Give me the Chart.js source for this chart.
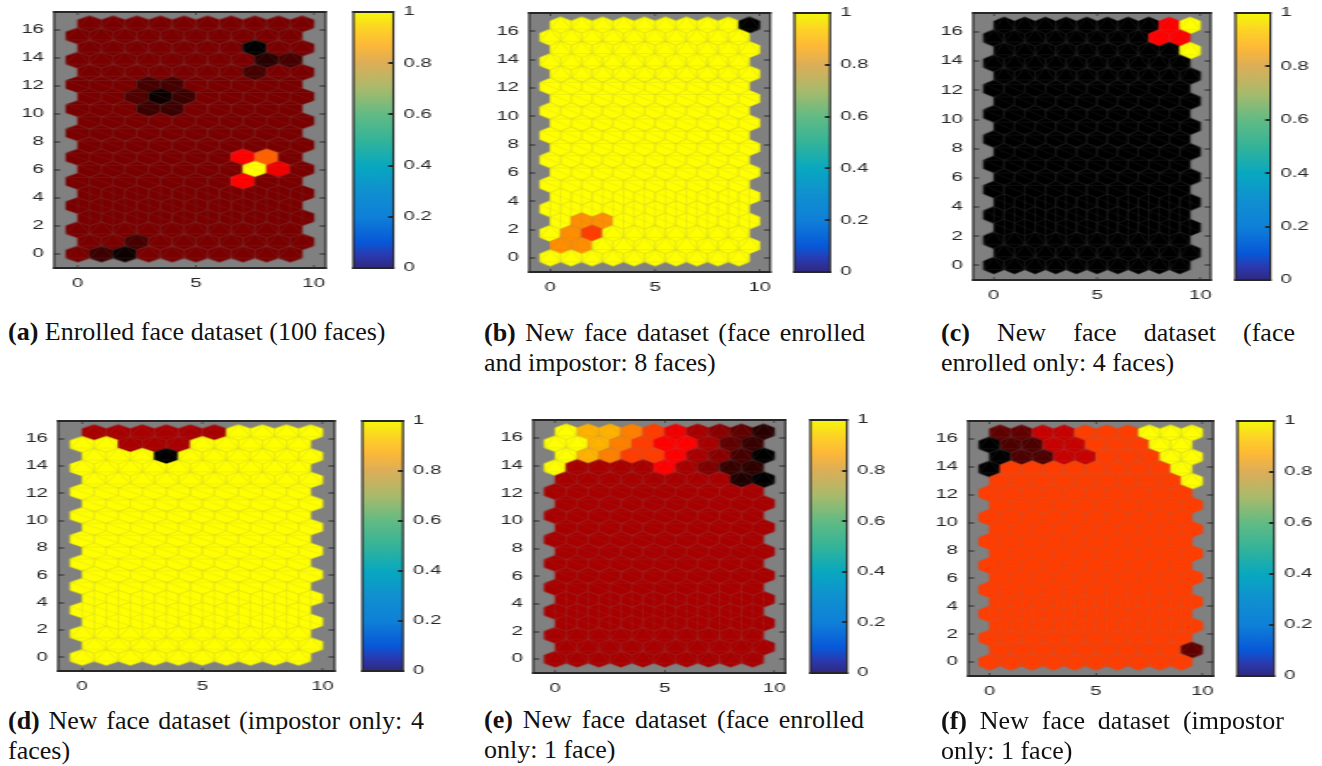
<!DOCTYPE html>
<html>
<head>
<meta charset="utf-8">
<title>Hit maps</title>
<script src="https://cdn.jsdelivr.net/npm/chart.js@4/dist/chart.umd.min.js"></script>
<style>
  html, body { margin: 0; background: #fff; }
  #page { position: relative; width: 1322px; height: 766px; overflow: hidden; }
  canvas { position: absolute; }
  .cap {
    position: absolute; margin: 0; text-align: justify;
    font-family: "Liberation Serif", serif; font-size: 26px; line-height: 29.5px; color: #111;
  }
</style>
</head>
<body>
<div id="page"></div>
<script>
// Grid rows, top row first
const rowY = [16.45, 15.59, 14.72, 13.86, 12.99, 12.12, 11.26, 10.39, 9.53, 8.66, 7.79, 6.93, 6.06, 5.20, 4.33, 3.46, 2.60, 1.73, 0.87, 0];
const oddRowX = [0.5, 1.5, 2.5, 3.5, 4.5, 5.5, 6.5, 7.5, 8.5, 9.5];
const evenRowX = [0, 1, 2, 3, 4, 5, 6, 7, 8, 9];

const xTicks = [0, 5, 10];
const yTicks = [0, 2, 4, 6, 8, 10, 12, 14, 16];
const barTicks = [0, 0.2, 0.4, 0.6, 0.8, 1];

// Hit values, same row order as rowY
const hitsA = [
  [.24,.24,.24,.24,.24,.24,.24,.24,.24,.24],
  [.24,.24,.24,.24,.24,.24,.24,.24,.24,.24],
  [.24,.24,.24,.24,.24,.24,.24,0,.24,.24],
  [.24,.24,.24,.24,.24,.24,.24,.24,.08,.14],
  [.24,.24,.24,.24,.24,.24,.24,.14,.24,.24],
  [.24,.24,.24,.14,.14,.24,.24,.24,.24,.24],
  [.24,.24,.16,.03,.12,.24,.24,.24,.24,.24],
  [.24,.24,.24,.12,.12,.24,.24,.24,.24,.24],
  [.24,.24,.24,.24,.24,.24,.24,.24,.24,.24],
  [.24,.24,.24,.24,.24,.24,.24,.24,.24,.24],
  [.24,.24,.24,.24,.24,.24,.24,.24,.24,.24],
  [.24,.24,.24,.24,.24,.24,.24,.5,.69,.24],
  [.24,.24,.24,.24,.24,.24,.24,1,.47,.24],
  [.24,.24,.24,.24,.24,.24,.24,.5,.24,.24],
  [.24,.24,.24,.24,.24,.24,.24,.24,.24,.24],
  [.24,.24,.24,.24,.24,.24,.24,.24,.24,.24],
  [.24,.24,.24,.24,.24,.24,.24,.24,.24,.24],
  [.24,.24,.24,.24,.24,.24,.24,.24,.24,.24],
  [.24,.24,.14,.24,.24,.24,.24,.24,.24,.24],
  [.24,.12,.03,.24,.24,.24,.24,.24,.24,.24]
];
const hitsB = [
  [1,1,1,1,1,1,1,1,1,0],
  [1,1,1,1,1,1,1,1,1,1],
  [1,1,1,1,1,1,1,1,1,1],
  [1,1,1,1,1,1,1,1,1,1],
  [1,1,1,1,1,1,1,1,1,1],
  [1,1,1,1,1,1,1,1,1,1],
  [1,1,1,1,1,1,1,1,1,1],
  [1,1,1,1,1,1,1,1,1,1],
  [1,1,1,1,1,1,1,1,1,1],
  [1,1,1,1,1,1,1,1,1,1],
  [1,1,1,1,1,1,1,1,1,1],
  [1,1,1,1,1,1,1,1,1,1],
  [1,1,1,1,1,1,1,1,1,1],
  [1,1,1,1,1,1,1,1,1,1],
  [1,1,1,1,1,1,1,1,1,1],
  [1,1,1,1,1,1,1,1,1,1],
  [1,.78,.78,1,1,1,1,1,1,1],
  [1,.78,.62,1,1,1,1,1,1,1],
  [.78,.78,1,1,1,1,1,1,1,1],
  [1,1,1,1,1,1,1,1,1,1]
];
const hitsC = [
  [0,0,0,0,0,0,0,0,.5,1],
  [0,0,0,0,0,0,0,0,.5,.5],
  [0,0,0,0,0,0,0,0,0,1],
  [0,0,0,0,0,0,0,0,0,0],
  [0,0,0,0,0,0,0,0,0,0],
  [0,0,0,0,0,0,0,0,0,0],
  [0,0,0,0,0,0,0,0,0,0],
  [0,0,0,0,0,0,0,0,0,0],
  [0,0,0,0,0,0,0,0,0,0],
  [0,0,0,0,0,0,0,0,0,0],
  [0,0,0,0,0,0,0,0,0,0],
  [0,0,0,0,0,0,0,0,0,0],
  [0,0,0,0,0,0,0,0,0,0],
  [0,0,0,0,0,0,0,0,0,0],
  [0,0,0,0,0,0,0,0,0,0],
  [0,0,0,0,0,0,0,0,0,0],
  [0,0,0,0,0,0,0,0,0,0],
  [0,0,0,0,0,0,0,0,0,0],
  [0,0,0,0,0,0,0,0,0,0],
  [0,0,0,0,0,0,0,0,0,0]
];
const hitsD = [
  [.33,.33,.33,.33,.33,.33,1,1,1,1],
  [1,1,.33,.33,.33,1,1,1,1,1],
  [1,1,1,0,1,1,1,1,1,1],
  [1,1,1,1,1,1,1,1,1,1],
  [1,1,1,1,1,1,1,1,1,1],
  [1,1,1,1,1,1,1,1,1,1],
  [1,1,1,1,1,1,1,1,1,1],
  [1,1,1,1,1,1,1,1,1,1],
  [1,1,1,1,1,1,1,1,1,1],
  [1,1,1,1,1,1,1,1,1,1],
  [1,1,1,1,1,1,1,1,1,1],
  [1,1,1,1,1,1,1,1,1,1],
  [1,1,1,1,1,1,1,1,1,1],
  [1,1,1,1,1,1,1,1,1,1],
  [1,1,1,1,1,1,1,1,1,1],
  [1,1,1,1,1,1,1,1,1,1],
  [1,1,1,1,1,1,1,1,1,1],
  [1,1,1,1,1,1,1,1,1,1],
  [1,1,1,1,1,1,1,1,1,1],
  [1,1,1,1,1,1,1,1,1,1]
];
const hitsE = [
  [1,.85,.85,.75,.62,.47,.33,.27,.19,.08],
  [1,1,.85,.75,.62,.5,.5,.33,.19,.11],
  [1,.85,.75,.62,.62,.5,.33,.27,.14,0],
  [1,.33,.33,.33,.33,.5,.33,.25,.11,.09],
  [.33,.33,.33,.33,.33,.33,.33,.33,.06,0],
  [.33,.33,.33,.33,.33,.33,.33,.33,.33,.33],
  [.33,.33,.33,.33,.33,.33,.33,.33,.33,.33],
  [.33,.33,.33,.33,.33,.33,.33,.33,.33,.33],
  [.33,.33,.33,.33,.33,.33,.33,.33,.33,.33],
  [.33,.33,.33,.33,.33,.33,.33,.33,.33,.33],
  [.33,.33,.33,.33,.33,.33,.33,.33,.33,.33],
  [.33,.33,.33,.33,.33,.33,.33,.33,.33,.33],
  [.33,.33,.33,.33,.33,.33,.33,.33,.33,.33],
  [.33,.33,.33,.33,.33,.33,.33,.33,.33,.33],
  [.33,.33,.33,.33,.33,.33,.33,.33,.33,.33],
  [.33,.33,.33,.33,.33,.33,.33,.33,.33,.33],
  [.33,.33,.33,.33,.33,.33,.33,.33,.33,.33],
  [.33,.33,.33,.33,.33,.33,.33,.33,.33,.33],
  [.33,.33,.33,.33,.33,.33,.33,.33,.33,.33],
  [.33,.33,.33,.33,.33,.33,.33,.33,.33,.33]
];
const hitsF = [
  [.19,.19,.39,.39,.62,.62,.62,1,1,1],
  [0,.15,.15,.39,.39,.62,.62,.62,1,1],
  [0,.15,.15,.39,.39,.62,.62,.62,1,1],
  [0,.62,.62,.62,.62,.62,.62,.62,.62,1],
  [.62,.62,.62,.62,.62,.62,.62,.62,.62,1],
  [.62,.62,.62,.62,.62,.62,.62,.62,.62,.62],
  [.62,.62,.62,.62,.62,.62,.62,.62,.62,.62],
  [.62,.62,.62,.62,.62,.62,.62,.62,.62,.62],
  [.62,.62,.62,.62,.62,.62,.62,.62,.62,.62],
  [.62,.62,.62,.62,.62,.62,.62,.62,.62,.62],
  [.62,.62,.62,.62,.62,.62,.62,.62,.62,.62],
  [.62,.62,.62,.62,.62,.62,.62,.62,.62,.62],
  [.62,.62,.62,.62,.62,.62,.62,.62,.62,.62],
  [.62,.62,.62,.62,.62,.62,.62,.62,.62,.62],
  [.62,.62,.62,.62,.62,.62,.62,.62,.62,.62],
  [.62,.62,.62,.62,.62,.62,.62,.62,.62,.62],
  [.62,.62,.62,.62,.62,.62,.62,.62,.62,.62],
  [.62,.62,.62,.62,.62,.62,.62,.62,.62,.62],
  [.62,.62,.62,.62,.62,.62,.62,.62,.62,.19],
  [.62,.62,.62,.62,.62,.62,.62,.62,.62,.62]
];

const captionLabels = ['(a)', '(b)', '(c)', '(d)', '(e)', '(f)'];
const captionTexts = [
  'Enrolled face dataset (100 faces)',
  'New face dataset (face enrolled and impostor: 8 faces)',
  'New face dataset (face enrolled only: 4 faces)',
  'New face dataset (impostor only: 4 faces)',
  'New face dataset (face enrolled only: 1 face)',
  'New face dataset (impostor only: 1 face)'
];

// Colorbar stops (position, colour)
const barStops = [0, 0.05, 0.1, 0.2, 0.3, 0.4, 0.5, 0.6, 0.7, 0.8, 0.87, 0.93, 1];
const barColors = ['#30287e', '#2a3ab0', '#0858d8', '#0f80d8', '#1090d0', '#08a8c0', '#34b498', '#62bb84', '#a8ba6c', '#dcae58', '#fdb838', '#fdd028', '#f5f80a'];

// Frame of each map and of its colorbar [left, top, right, bottom], in page pixels
const layouts = [
  { hits: hitsA, map: [54, 12, 326, 268], bar: [353, 12, 393, 268], cap: [8, 317, 400] },
  { hits: hitsB, map: [529, 13, 770, 272], bar: [794, 13, 830, 272], cap: [484, 318, 381] },
  { hits: hitsC, map: [973, 13, 1211, 280], bar: [1235, 13, 1270, 280], cap: [941, 318, 354] },
  { hits: hitsD, map: [58, 421, 335, 671], bar: [362, 421, 403, 671], cap: [8, 706, 416] },
  { hits: hitsE, map: [533, 420, 785, 673], bar: [810, 420, 847, 673], cap: [484, 705, 380] },
  { hits: hitsF, map: [968, 421, 1213, 676], bar: [1237, 421, 1274, 676], cap: [941, 706, 343] }
];

// The source figure is stretched sideways, so the canvases are too
const stretch = 1.7;
const tickFont = { family: '"Liberation Sans", sans-serif', size: 12 };
const inkColor = '#262626';
const page = document.getElementById('page');

// black -> red -> yellow
function heatColor(v) {
  const r = Math.min(1, v / 0.5);
  const g = Math.max(0, (v - 0.5) / 0.5);
  return `rgb(${Math.round(r * 255)},${Math.round(g * 255)},0)`;
}

// Which faint mesh lines show inside a hexagon, depends on the row
function meshFor(rowIndex) {
  if (rowIndex < 5) return 'tent';
  if (rowIndex < 14) return 'flat';
  if (rowIndex < 17) return 'vert';
  return 'tent';
}

const spriteCache = {};
function hexSprite(color, mesh, w, h) {
  const key = [color, mesh, w.toFixed(2), h.toFixed(2)].join('|');
  if (spriteCache[key]) return spriteCache[key];
  const c = document.createElement('canvas');
  c.width = Math.ceil(w) + 4;
  c.height = Math.ceil(h) + 4;
  const g = c.getContext('2d');
  g.translate(c.width / 2, c.height / 2);
  const px = w / 2, py = h / 2, pq = h / 4;
  const line = (x1, y1, x2, y2) => { g.moveTo(x1, y1); g.lineTo(x2, y2); };
  g.beginPath();
  g.moveTo(0, -py);
  g.lineTo(px, -pq);
  g.lineTo(px, pq);
  g.lineTo(0, py);
  g.lineTo(-px, pq);
  g.lineTo(-px, -pq);
  g.closePath();
  g.fillStyle = color;
  g.strokeStyle = color;
  g.lineWidth = 0.6;
  g.fill();
  g.stroke();
  g.strokeStyle = 'rgba(128,128,128,0.14)';
  g.stroke();
  g.beginPath();
  if (mesh === 'flat') {
    line(-px, -pq, px, -pq);
    line(-px, -pq, px, pq);
  } else if (mesh === 'tent') {
    line(0, -py, -px, pq);
    line(0, -py, px, pq);
    line(-px, pq, px, pq);
  } else {
    line(0, -py, 0, py);
    line(-px, -pq, px, pq);
  }
  g.strokeStyle = 'rgba(128,128,128,0.22)';
  g.stroke();
  spriteCache[key] = c;
  return c;
}

function drawFrame(ctx, a) {
  const side = 2 / stretch;
  ctx.fillStyle = inkColor;
  ctx.fillRect(a.left - side / 2, a.top - 1, a.right - a.left + side, 2);
  ctx.fillRect(a.left - side / 2, a.bottom - 1, a.right - a.left + side, 2);
  ctx.fillRect(a.left - side / 2, a.top - 1, side, a.bottom - a.top + 2);
  ctx.fillRect(a.right - side / 2, a.top - 1, side, a.bottom - a.top + 2);
}

// Frame plus the short inward ticks on all four sides
const mapFrame = {
  id: 'mapFrame',
  afterDraw(chart) {
    const { ctx, chartArea: a, scales } = chart;
    const thin = 1 / stretch, len = 6 / stretch;
    ctx.save();
    ctx.fillStyle = inkColor;
    xTicks.forEach(t => {
      const x = scales.x.getPixelForValue(t);
      ctx.fillRect(x - thin / 2, a.bottom - 3, thin, 3);
      ctx.fillRect(x - thin / 2, a.top, thin, 3);
    });
    yTicks.forEach(t => {
      const y = Math.round(scales.y.getPixelForValue(t));
      ctx.fillRect(a.left, y - 0.5, len, 1);
      ctx.fillRect(a.right - len, y - 0.5, len, 1);
    });
    drawFrame(ctx, a);
    ctx.restore();
  }
};

const barFrame = {
  id: 'barFrame',
  afterDraw(chart) {
    const { ctx, chartArea: a, scales } = chart;
    const len = 5 / stretch;
    ctx.save();
    ctx.fillStyle = inkColor;
    barTicks.forEach(t => {
      const y = Math.round(scales.y.getPixelForValue(t));
      ctx.fillRect(a.right - len, y - 1, len, 2);
    });
    drawFrame(ctx, a);
    ctx.restore();
  }
};

// Canvas whose bitmap is narrower than its box on the page
function addCanvas(left, top, innerWidth, height) {
  const c = document.createElement('canvas');
  c.width = innerWidth;
  c.height = height;
  c.style.left = left + 'px';
  c.style.top = top + 'px';
  c.style.width = (innerWidth * stretch) + 'px';
  c.style.height = height + 'px';
  page.appendChild(c);
  return c;
}

function clearPadding(s) {
  s.paddingTop = 0;
  s.paddingBottom = 0;
  s.paddingLeft = 0;
  s.paddingRight = 0;
}

function drawMap(hits, box) {
  const [l, t, r, b] = box;
  const padLeft = 26, padTop = 12, padBottom = 32;
  const areaWidth = (r - l) / stretch;
  const innerWidth = Math.ceil(padLeft + areaWidth + 12);
  const canvas = addCanvas(l - padLeft * stretch, t - padTop, innerWidth, b - t + padTop + padBottom);
  const points = [];
  hits.forEach((row, i) => {
    const xs = i % 2 === 0 ? oddRowX : evenRowX;
    row.forEach((v, j) => {
      points.push({ x: xs[j], y: rowY[i], v: v, row: i });
    });
  });
  new Chart(canvas, {
    type: 'scatter',
    data: {
      datasets: [{
        data: points,
        showLine: false,
        pointRadius: 10,
        pointBorderWidth: 0,
        pointStyle: ctx => {
          const s = ctx.chart.scales;
          const w = Math.abs(s.x.getPixelForValue(1) - s.x.getPixelForValue(0));
          const h = Math.abs(s.y.getPixelForValue(0) - s.y.getPixelForValue(1.1547));
          return hexSprite(heatColor(ctx.raw.v), meshFor(ctx.raw.row), w, h);
        }
      }]
    },
    options: {
      responsive: false,
      animation: false,
      events: [],
      layout: { padding: { top: padTop, right: innerWidth - padLeft - areaWidth, left: 0, bottom: 0 } },
      plugins: { legend: { display: false }, tooltip: { enabled: false } },
      scales: {
        x: {
          type: 'linear', min: -1, max: 10.5,
          grid: { display: false, drawTicks: false }, border: { display: false },
          afterBuildTicks: s => { s.ticks = xTicks.map(value => ({ value })); },
          afterFit: s => { s.height = padBottom; clearPadding(s); },
          ticks: { padding: 8, color: inkColor, font: tickFont, maxRotation: 0, callback: v => String(v) }
        },
        y: {
          type: 'linear', min: -1, max: 17.3,
          grid: { display: false, drawTicks: false }, border: { display: false },
          afterBuildTicks: s => { s.ticks = yTicks.map(value => ({ value })); },
          afterFit: s => { s.width = padLeft; clearPadding(s); },
          ticks: { padding: 6, color: inkColor, font: tickFont, callback: v => String(v) }
        }
      }
    },
    plugins: [{
      id: 'mapBack',
      beforeDatasetsDraw(chart) {
        const a = chart.chartArea;
        chart.ctx.fillStyle = '#808080';
        chart.ctx.fillRect(a.left, a.top, a.right - a.left, a.bottom - a.top);
      }
    }, mapFrame]
  });
}

function drawBar(box) {
  const [l, t, r, b] = box;
  const padLeft = 2, padTop = 8, padBottom = 8, padRight = 30;
  const areaWidth = (r - l) / stretch;
  const innerWidth = Math.ceil(padLeft + areaWidth + padRight);
  const canvas = addCanvas(l - padLeft * stretch, t - padTop, innerWidth, b - t + padTop + padBottom);
  new Chart(canvas, {
    type: 'bar',
    data: {
      labels: ['hits'],
      datasets: [{
        data: [[0, 1]],
        barPercentage: 1,
        categoryPercentage: 1,
        backgroundColor: ctx => {
          const a = ctx.chart.chartArea;
          if (!a) return barColors[0];
          const g = ctx.chart.ctx.createLinearGradient(0, a.bottom, 0, a.top);
          barStops.forEach((p, i) => g.addColorStop(p, barColors[i]));
          return g;
        }
      }]
    },
    options: {
      responsive: false,
      animation: false,
      events: [],
      layout: { padding: { top: padTop, bottom: padBottom, left: padLeft, right: 0 } },
      plugins: { legend: { display: false }, tooltip: { enabled: false } },
      scales: {
        x: { display: false },
        y: {
          position: 'right', min: 0, max: 1,
          grid: { display: false, drawTicks: false }, border: { display: false },
          afterBuildTicks: s => { s.ticks = barTicks.map(value => ({ value })); },
          afterFit: s => { s.width = innerWidth - padLeft - areaWidth; clearPadding(s); },
          ticks: { padding: 6, color: inkColor, font: tickFont, callback: v => String(v) }
        }
      }
    },
    plugins: [barFrame]
  });
}

function addCaption(i, box) {
  const p = document.createElement('p');
  p.className = 'cap';
  p.style.left = box[0] + 'px';
  p.style.top = box[1] + 'px';
  p.style.width = box[2] + 'px';
  const b = document.createElement('b');
  b.textContent = captionLabels[i];
  p.appendChild(b);
  p.appendChild(document.createTextNode(' ' + captionTexts[i]));
  page.appendChild(p);
}

layouts.forEach((panel, i) => {
  drawMap(panel.hits, panel.map);
  drawBar(panel.bar);
  addCaption(i, panel.cap);
});
</script>
</body>
</html>
